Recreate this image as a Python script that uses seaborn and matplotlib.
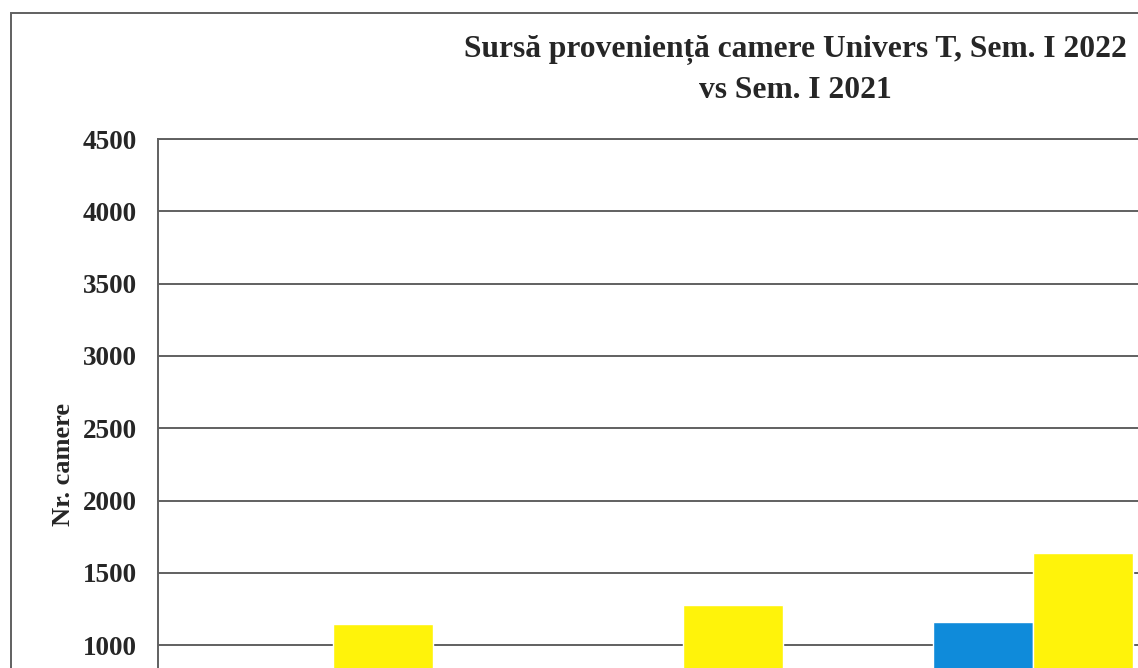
import pandas as pd
import matplotlib.pyplot as plt
import seaborn as sns
from matplotlib.patches import Rectangle

# date (valorile albastre din primele doua grupe sunt sub marginea taiata a imaginii)
surse = ['Sursa 1', 'Sursa 2', 'Sursa 3']
sem_2021 = [650, 760, 1160]
sem_2022 = [1145, 1280, 1635]
perioade = ['Sem. I 2021', 'Sem. I 2022']
culori = ['#0F8BDA', '#FFF30A']

df = pd.DataFrame({
    'Sursa': surse * 2,
    'Perioada': [perioade[0]] * len(surse) + [perioade[1]] * len(surse),
    'Camere': sem_2021 + sem_2022,
})

sns.set_style("white")
plt.rcParams['font.family'] = ['Liberation Serif', 'DejaVu Serif']
plt.rcParams['font.weight'] = 'bold'

fig = plt.figure(figsize=(11.38, 6.68), dpi=100)
# axa continua sub marginea de jos si dincolo de marginea din dreapta (imagine decupata)
ax = fig.add_axes([158 / 1138, -0.1826, 1050 / 1138, 0.9745])

sns.barplot(data=df, x='Sursa', y='Camere', hue='Perioada', palette=culori,
            width=0.57, legend=False, saturation=1, ax=ax, zorder=3)

ax.set_ylim(0, 4500)
ax.set_yticks(range(1000, 4501, 500))
ax.yaxis.grid(True, color='#606060', linewidth=1.4, zorder=0)
ax.set_axisbelow(True)
for s in ax.spines.values():
    s.set_color('#606060')
    s.set_linewidth(1.4)
ax.tick_params(axis='y', length=0, pad=15, labelsize=19.5)
ax.tick_params(axis='x', length=0, labelbottom=False)
ax.set_ylabel('Nr. camere', fontsize=19, fontweight='bold', labelpad=6)
ax.set_xlabel('')

fig.text(0.699, 0.948, 'Sursă proveniență camere Univers T, Sem. I 2022\nvs Sem. I 2021',
         ha='center', va='top', fontsize=22.7, fontweight='bold', linespacing=1.5)

# chenarul exterior al graficului
fig.patches.append(Rectangle((11 / 1138, -0.5), 1.2, 0.5 + (668 - 13) / 668,
                             transform=fig.transFigure, fill=False,
                             edgecolor='#606060', linewidth=1.4))

fig.savefig('out.png', dpi=100)
